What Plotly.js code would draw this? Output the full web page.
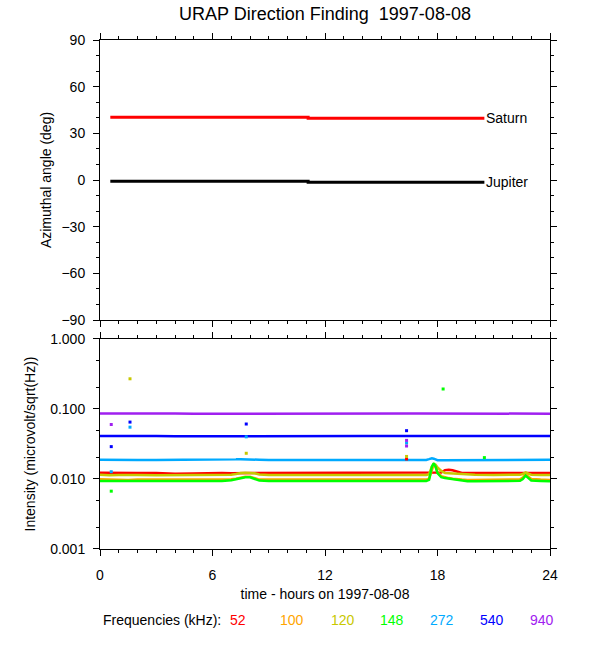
<!DOCTYPE html>
<html><head><meta charset="utf-8">
<script src="https://cdn.plot.ly/plotly-3.0.1.min.js"></script>
<style>html,body{margin:0;padding:0;background:#fff}</style>
</head><body><div id="chart" style="width:600px;height:650px"></div>
<script>
// ---------- data ----------
const chartTitle = 'URAP Direction Finding\u00a0 1997-08-08';

// top panel: direction finding (azimuthal angle, deg)
const dfHours     = [0.55, 11.1, 20.5];
const saturnDeg   = [40.3, 39.7, 39.7];
const jupiterDeg  = [-0.8, -1.4, -1.4];
const planetNames = ['Saturn', 'Jupiter'];

// bottom panel: intensity (microvolt/sqrt(Hz)) per frequency
const hours = [0, 0.5, 1, 1.5, 2, 3, 4, 5, 6, 6.5,
               7, 7.25, 7.5, 7.75, 8, 8.25, 8.5, 9, 10, 11,
               12, 13, 14, 15, 16, 16.5, 17, 17.4, 17.55, 17.7,
               17.8, 17.9, 18.0, 18.2, 18.4, 18.6, 18.8, 19.0, 19.3, 19.6,
               20, 21, 22, 22.4, 22.55, 22.7, 22.85, 23, 23.5, 24];

const int52  = [0.0123,0.0122,0.0123,0.0122,0.0122,0.0122,0.0119,0.0120,0.0122,0.0122,
                0.0121,0.0121,0.0122,0.0122,0.0122,0.0123,0.0122,0.0122,0.0122,0.0121,
                0.0122,0.0122,0.0122,0.0122,0.0122,0.0122,0.0122,0.0122,0.0122,0.0122,
                0.0122,0.0122,0.0122,0.0124,0.0134,0.0136,0.0133,0.0129,0.0122,0.0122,
                0.0122,0.0122,0.0122,0.0122,0.0122,0.0122,0.0122,0.0122,0.0122,0.0122];
const int100 = [0.0099,0.0098,0.0098,0.0097,0.0098,0.0098,0.0097,0.0098,0.0098,0.0098,
                0.0099,0.0101,0.0105,0.0108,0.0108,0.0103,0.0098,0.0098,0.0097,0.0098,
                0.0098,0.0098,0.0098,0.0098,0.0098,0.0098,0.0098,0.0098,0.0101,0.0140,
                0.0160,0.0148,0.0125,0.0110,0.0106,0.0103,0.0101,0.0099,0.0098,0.0097,
                0.0097,0.0097,0.0098,0.0099,0.0105,0.0117,0.0108,0.0100,0.0098,0.0097];
const int120 = [0.0115,0.0113,0.0114,0.0115,0.0114,0.0113,0.0114,0.0115,0.0114,0.0114,
                0.0115,0.0118,0.0122,0.0123,0.0123,0.0121,0.0116,0.0114,0.0114,0.0115,
                0.0114,0.0114,0.0113,0.0114,0.0114,0.0115,0.0114,0.0114,0.0117,0.0150,
                0.0165,0.0160,0.0146,0.0130,0.0122,0.0121,0.0120,0.0118,0.0116,0.0115,
                0.0115,0.0114,0.0114,0.0115,0.0118,0.0124,0.0119,0.0115,0.0114,0.0114];
const int148 = [0.0094,0.0094,0.0093,0.0094,0.0094,0.0093,0.0094,0.0094,0.0094,0.0094,
                0.0096,0.0100,0.0103,0.0106,0.0106,0.0101,0.0095,0.0094,0.0094,0.0094,
                0.0094,0.0094,0.0094,0.0094,0.0094,0.0094,0.0094,0.0094,0.0097,0.0150,
                0.0168,0.0150,0.0121,0.0106,0.0103,0.0101,0.0100,0.0097,0.0094,0.0093,
                0.0093,0.0093,0.0094,0.0094,0.0100,0.0112,0.0103,0.0095,0.0094,0.0093];
const int272 = [0.0188,0.0187,0.0186,0.0187,0.0187,0.0187,0.0187,0.0187,0.0187,0.0187,
                0.0188,0.0191,0.0192,0.0192,0.0192,0.0191,0.0188,0.0187,0.0187,0.0187,
                0.0187,0.0187,0.0187,0.0187,0.0187,0.0187,0.0187,0.0187,0.0192,0.0198,
                0.0195,0.0188,0.0186,0.0186,0.0186,0.0186,0.0186,0.0186,0.0186,0.0186,
                0.0186,0.0186,0.0186,0.0187,0.0187,0.0188,0.0187,0.0187,0.0187,0.0188];
const int540 = [0.0412,0.0410,0.0409,0.0411,0.0410,0.0410,0.0409,0.0410,0.0410,0.0410,
                0.0410,0.0410,0.0410,0.0411,0.0410,0.0410,0.0410,0.0410,0.0409,0.0410,
                0.0410,0.0410,0.0410,0.0410,0.0410,0.0410,0.0409,0.0410,0.0410,0.0410,
                0.0410,0.0410,0.0410,0.0410,0.0410,0.0409,0.0410,0.0410,0.0410,0.0410,
                0.0410,0.0410,0.0409,0.0410,0.0410,0.0410,0.0410,0.0410,0.0410,0.0410];
const int940 = [0.0860,0.0860,0.0862,0.0880,0.0878,0.0862,0.0860,0.0858,0.0860,0.0860,
                0.0860,0.0860,0.0862,0.0862,0.0860,0.0860,0.0858,0.0860,0.0860,0.0860,
                0.0860,0.0866,0.0860,0.0860,0.0860,0.0860,0.0860,0.0860,0.0860,0.0860,
                0.0860,0.0860,0.0860,0.0860,0.0860,0.0860,0.0860,0.0860,0.0860,0.0860,
                0.0860,0.0860,0.0860,0.0860,0.0860,0.0860,0.0860,0.0860,0.0860,0.0858];

// isolated points
const spike52T  = [16.35];        const spike52V  = [0.0193];
const spike120T = [1.6, 7.8, 16.35]; const spike120V = [0.27, 0.0233, 0.0210];
const spike148T = [0.6, 18.3, 20.5]; const spike148V = [0.0067, 0.193, 0.0202];
const spike272T = [0.6, 1.6, 7.8, 16.35]; const spike272V = [0.0127, 0.055, 0.040, 0.0327];
const spike540T = [0.6, 1.6, 7.8, 16.35]; const spike540V = [0.029, 0.065, 0.061, 0.049];
const spike940T = [0.6, 16.35, 16.35]; const spike940V = [0.060, 0.0356, 0.0296];

const freqLabels = ['52', '100', '120', '148', '272', '540', '940'];
const freqColors = ['#ff0000', '#ffa500', '#c8c800', '#00ff00', '#00aaff', '#0000ff', '#a020f0'];
const legendTitle = 'Frequencies (kHz):';

const hourTicks = [0, 6, 12, 18, 24];
const angleTicks = [-90, -60, -30, 0, 30, 60, 90];
const intensityTicks = [0.001, 0.01, 0.1, 1];
const intensityTickText = ['0.001', '0.010', '0.100', '1.000'];
const intensityMinor = [0.002, 0.005, 0.02, 0.05, 0.2, 0.5];

// ---------- figure ----------
const FONT = 'Liberation Sans, Arial, Helvetica, sans-serif';
const series = [int52, int100, int120, int148, int272, int540, int940];
const spikesT = [spike52T, null, spike120T, spike148T, spike272T, spike540T, spike940T];
const spikesV = [spike52V, null, spike120V, spike148V, spike272V, spike540V, spike940V];

const traces = [];
series.forEach((s, i) => {
  traces.push({x: hours, y: s, xaxis: 'x', yaxis: 'y', mode: 'lines',
    line: {color: freqColors[i], width: 2.5}, hoverinfo: 'skip', showlegend: false});
});
spikesT.forEach((t, i) => {
  if (!t) return;
  traces.push({x: t, y: spikesV[i], xaxis: 'x', yaxis: 'y', mode: 'markers',
    marker: {color: freqColors[i], size: 3, symbol: 'square'}, hoverinfo: 'skip', showlegend: false});
});
traces.push({x: dfHours, y: saturnDeg, xaxis: 'x2', yaxis: 'y2', mode: 'lines',
  line: {color: '#ff0000', width: 3, shape: 'hv'}, hoverinfo: 'skip', showlegend: false});
traces.push({x: dfHours, y: jupiterDeg, xaxis: 'x2', yaxis: 'y2', mode: 'lines',
  line: {color: '#000000', width: 3, shape: 'hv'}, hoverinfo: 'skip', showlegend: false});

const axisCommon = {
  showline: true, linecolor: '#000', linewidth: 1, mirror: 'ticks',
  ticks: 'outside', ticklen: 6, tickwidth: 1, tickcolor: '#000',
  showgrid: false, zeroline: false,
  tickfont: {family: FONT, size: 14, color: '#000'}
};

const annotations = [];
annotations.push({x: dfHours[dfHours.length - 1], y: saturnDeg[saturnDeg.length - 1], xref: 'x2', yref: 'y2',
  text: planetNames[0], showarrow: false, xanchor: 'left', yanchor: 'middle', xshift: 0,
  font: {family: FONT, size: 14, color: '#000'}});
annotations.push({x: dfHours[dfHours.length - 1], y: jupiterDeg[jupiterDeg.length - 1], xref: 'x2', yref: 'y2',
  text: planetNames[1], showarrow: false, xanchor: 'left', yanchor: 'middle', xshift: 0,
  font: {family: FONT, size: 14, color: '#000'}});
annotations.push({x: 0.002, y: -0.1395, xref: 'paper', yref: 'paper', text: legendTitle,
  showarrow: false, xanchor: 'left', yanchor: 'middle', font: {family: FONT, size: 14, color: '#000'}});
const legendX = [238, 292, 343, 392, 442, 492, 542];
freqLabels.forEach((lab, i) => {
  annotations.push({x: (legendX[i] - 100) / 450, y: -0.1395, xref: 'paper', yref: 'paper', text: lab,
    showarrow: false, xanchor: 'center', yanchor: 'middle', font: {family: FONT, size: 14, color: freqColors[i]}});
});

const layout = {
  width: 600, height: 650,
  margin: {l: 100, r: 50, t: 40, b: 101},
  paper_bgcolor: '#fff', plot_bgcolor: '#fff',
  showlegend: false,
  title: {text: chartTitle, x: 0.5, xref: 'paper', y: 1 - 14 / 650, yref: 'container',
          xanchor: 'center', yanchor: 'middle', font: {family: FONT, size: 18, color: '#000'}},
  xaxis: Object.assign({}, axisCommon, {
    domain: [0, 1], anchor: 'y', range: [0, 24], tickmode: 'array', tickvals: hourTicks,
    ticklabelstandoff: 7,
    minor: {tickmode: 'linear', tick0: 0, dtick: 1, ticks: 'outside', ticklen: 3, tickcolor: '#000'},
    title: {text: 'time - hours on 1997-08-08', font: {family: FONT, size: 14, color: '#000'}, standoff: 7}
  }),
  yaxis: Object.assign({}, axisCommon, {
    domain: [0, 0.4126], anchor: 'x', type: 'log', range: [-3, 0],
    tickmode: 'array', tickvals: intensityTicks, ticktext: intensityTickText,
    ticklabelstandoff: 5,
    minor: {tickmode: 'array', tickvals: intensityMinor, ticks: 'outside', ticklen: 3, tickcolor: '#000'},
    title: {text: 'Intensity (microvolt/sqrt(Hz))', font: {family: FONT, size: 14, color: '#000'}, standoff: 11}
  }),
  xaxis2: Object.assign({}, axisCommon, {
    domain: [0, 1], anchor: 'y2', range: [0, 24], tickmode: 'array', tickvals: hourTicks,
    showticklabels: false,
    minor: {tickmode: 'linear', tick0: 0, dtick: 1, ticks: 'outside', ticklen: 3, tickcolor: '#000'}
  }),
  yaxis2: Object.assign({}, axisCommon, {
    domain: [0.4499, 1], anchor: 'x2', range: [-90, 90], tickmode: 'array', tickvals: angleTicks,
    ticklabelstandoff: 5,
    minor: {tickmode: 'linear', tick0: -90, dtick: 10, ticks: 'outside', ticklen: 3, tickcolor: '#000'},
    title: {text: 'Azimuthal angle (deg)', font: {family: FONT, size: 14, color: '#000'}, standoff: 6}
  }),
  annotations: annotations
};

Plotly.newPlot('chart', traces, layout, {staticPlot: true, displayModeBar: false});
</script>
</body></html>
